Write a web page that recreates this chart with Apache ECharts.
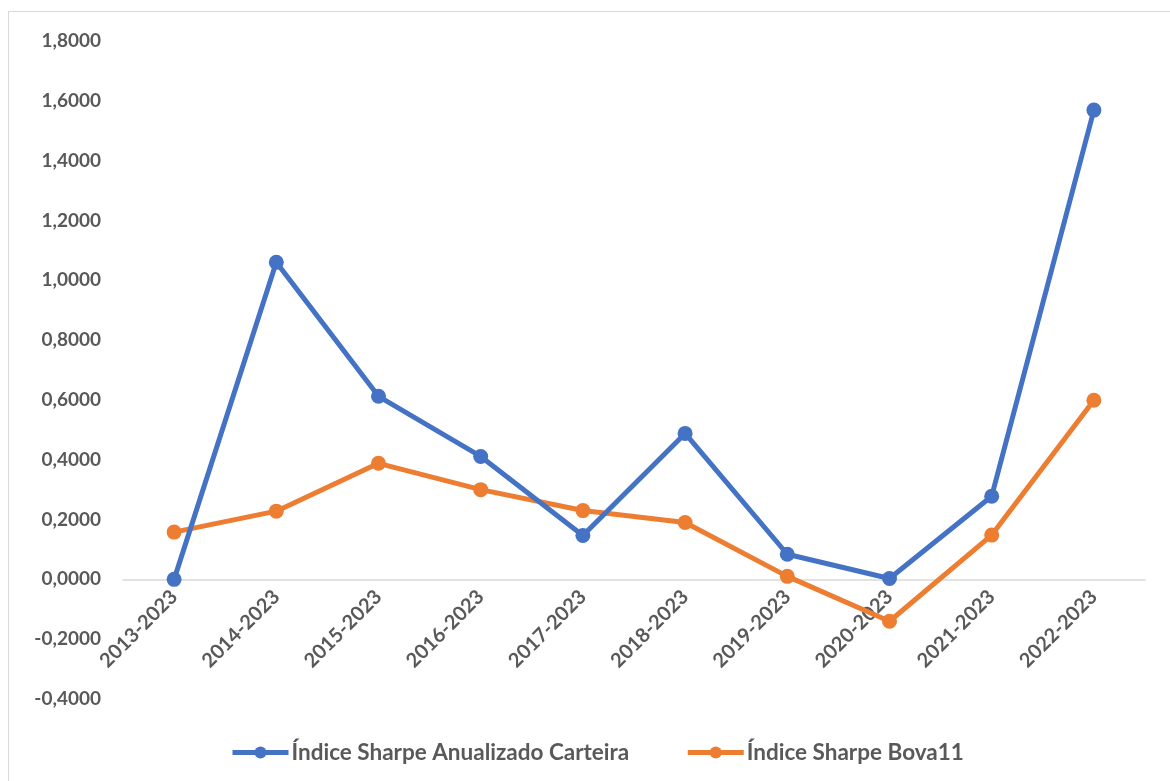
<!DOCTYPE html>
<html>
<head>
<meta charset="utf-8">
<script src="https://cdn.jsdelivr.net/npm/echarts@6/dist/echarts.min.js"></script>
<style>
  html, body { margin: 0; padding: 0; background: #fff; }
  #chart { width: 1170px; height: 781px; }
</style>
</head>
<body>
<div id="chart"></div>
<script>
// Periods analysed (start year to 2023)
const periods = ['2013-2023', '2014-2023', '2015-2023', '2016-2023', '2017-2023',
                 '2018-2023', '2019-2023', '2020-2023', '2021-2023', '2022-2023'];

// Annualised Sharpe ratio of the portfolio
const sharpeCarteira = [0.000, 1.060, 0.612, 0.411, 0.147, 0.488, 0.084, 0.003, 0.278, 1.569];

// Sharpe ratio of BOVA11
const sharpeBova11 = [0.158, 0.228, 0.388, 0.300, 0.230, 0.190, 0.010, -0.140, 0.148, 0.599];

const seriesNames = ['Índice Sharpe Anualizado Carteira', 'Índice Sharpe Bova11'];

const yMin = -0.4, yMax = 1.8, yStep = 0.2;

const baseFont = {
  color: '#595959',
  fontFamily: 'Lato, "Open Sans", sans-serif',
  fontWeight: 'bold'
};

const W = 1170, H = 781;
const gridBox = { left: 123, right: 25, top: 41, bottom: 82 };
const plotHeight = H - gridBox.top - gridBox.bottom;
// shift the category axis (line + labels) up from the plot bottom to the value 0
const zeroOffset = -plotHeight * (0 - yMin) / (yMax - yMin);

const chart = echarts.init(document.getElementById('chart'));

chart.setOption({
  animation: false,
  backgroundColor: '#fff',
  graphic: [{
    type: 'rect',
    shape: { x: 8.5, y: 11.5, width: 1200, height: 800 },
    style: { fill: 'none', stroke: '#d9d9d9', lineWidth: 1 },
    silent: true
  }],
  grid: Object.assign({}, gridBox, { outerBoundsMode: 'none', containLabel: false }),
  legend: {
    top: 736,
    left: 225,
    itemWidth: 56,
    itemHeight: 15,
    itemGap: 56,
    lineStyle: { width: 5 },
    textStyle: Object.assign({}, baseFont, { fontSize: 22.5, padding: [0, 0, 0, -2] }),
    data: seriesNames
  },
  xAxis: {
    type: 'category',
    data: periods,
    boundaryGap: true,
    position: 'bottom',
    offset: zeroOffset,
    axisLine: { show: true, onZero: false, lineStyle: { color: '#d9d9d9', width: 1.5 } },
    axisTick: { show: false },
    axisLabel: Object.assign({}, baseFont, { fontSize: 20, rotate: 45, margin: 14, interval: 0 }),
    splitLine: { show: false }
  },
  yAxis: {
    type: 'value',
    min: yMin,
    max: yMax,
    interval: yStep,
    axisLine: { show: false },
    axisTick: { show: false },
    splitLine: { show: false },
    axisLabel: Object.assign({}, baseFont, {
      fontSize: 19,
      margin: 22,
      formatter: v => v.toFixed(4).replace('.', ',')
    })
  },
  series: [
    {
      name: seriesNames[0],
      type: 'line',
      data: sharpeCarteira,
      symbol: 'circle',
      symbolSize: 15,
      lineStyle: { color: '#4472C4', width: 5 },
      itemStyle: { color: '#4472C4' },
      z: 3
    },
    {
      name: seriesNames[1],
      type: 'line',
      data: sharpeBova11,
      symbol: 'circle',
      symbolSize: 15,
      lineStyle: { color: '#ED7D31', width: 5 },
      itemStyle: { color: '#ED7D31' },
      z: 2
    }
  ]
});
</script>
</body>
</html>
